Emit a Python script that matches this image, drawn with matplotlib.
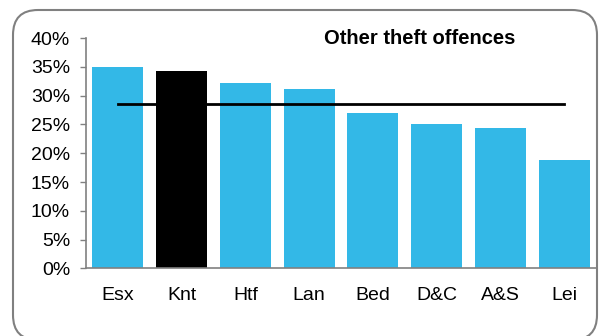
import numpy as np
import matplotlib
matplotlib.use("Agg")
import matplotlib.pyplot as plt
from matplotlib.patches import FancyBboxPatch

plt.rcParams["font.family"] = ["Liberation Sans", "DejaVu Sans"]

# Data
forces = ["Esx", "Knt", "Htf", "Lan", "Bed", "D&C", "A&S", "Lei"]
rates = [35.0, 34.3, 32.2, 31.2, 27.0, 25.0, 24.3, 18.9]
average = 28.6
highlight = "Knt"

yticks = [0, 5, 10, 15, 20, 25, 30, 35, 40]
ytick_labels = [f"{v}%" for v in yticks]

blue = "#33b8e7"
grey = "#808080"

fig = plt.figure(figsize=(5.99, 3.36), dpi=100)
ax = fig.add_axes([0.1436, 0.2009, 0.8514, 0.686])

x = np.arange(len(forces))
colors = ["black" if f == highlight else blue for f in forces]
ax.bar(x, rates, width=0.8, color=colors, zorder=2)

# force average line
ax.plot([x[0], x[-1]], [average, average], color="black", linewidth=2, zorder=3)

ax.set_xlim(-0.5, len(forces) - 0.5)
ax.set_ylim(0, 40)
ax.set_yticks(yticks)
ax.set_yticklabels(ytick_labels)
ax.set_xticks(x)
ax.set_xticklabels(forces)

ax.tick_params(axis="y", labelsize=14, length=4.5, width=1, color=grey, pad=7)
ax.tick_params(axis="x", labelsize=14, length=0, pad=13.5)

for s in ["top", "right"]:
    ax.spines[s].set_visible(False)
for s in ["left", "bottom"]:
    ax.spines[s].set_color(grey)
    ax.spines[s].set_linewidth(1.2)

ax.text(0.655, 0.996, "Other theft offences", transform=ax.transAxes,
        ha="center", va="center", fontsize=14.5, fontweight="bold")

# rounded frame around the chart (bottom edge runs just off the canvas)
frame = FancyBboxPatch((13, -4), 584, 330,
                       boxstyle="round,pad=0,rounding_size=25",
                       transform=None, fill=False, edgecolor=grey,
                       linewidth=1.5, zorder=10)
fig.patches.append(frame)

fig.savefig("out.png", dpi=100)
